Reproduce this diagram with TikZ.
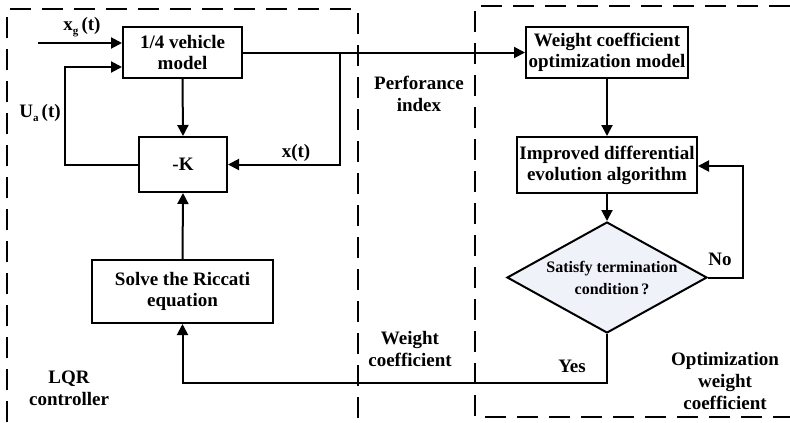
\documentclass[tikz,border=0pt]{standalone}
\usepackage{fontspec}
\setmainfont{Liberation Serif}
\usetikzlibrary{shapes.geometric,arrows.meta}
\tikzset{
  blk/.style={draw, line width=2bp, inner sep=0pt, align=center,
    font=\fontsize{19bp}{21bp}\selectfont\bfseries},
  lbl/.style={align=center, inner sep=0pt, font=\fontsize{19bp}{22bp}\selectfont\bfseries},
  conn/.style={line width=2bp},
  arr/.style={line width=2bp, -{Triangle[length=11bp,width=11bp]}},
  dashbox/.style={line width=2bp, dash pattern=on 21bp off 11bp},
}
\newcommand{\lowsub}[1]{\raisebox{-4bp}{\fontsize{11bp}{11bp}\selectfont #1}}
\definecolor{diafill}{RGB}{240,242,250}
\begin{document}
\begin{tikzpicture}[x=1bp,y=-1bp]
\useasboundingbox (0,0) rectangle (790,422);
% dashed regions
\draw[dashbox] (7,422) -- (7,9) -- (358,9) -- (358,422);
\draw[dashbox] (790,6) -- (475,6) -- (475,417) -- (790,417);
% blocks
\node[blk, minimum width=119bp, minimum height=51bp] (veh) at (182.5,52.5) {1/4 vehicle\\model};
\node[blk, minimum width=88bp, minimum height=55bp] (K) at (183,164.5) {-K};
\node[blk, minimum width=181bp, minimum height=63bp] (ric) at (182.5,291.5) {Solve the Riccati\\equation};
\node[blk, minimum width=162bp, minimum height=51bp] (wcom) at (607,52.5) {Weight coefficient\\optimization model};
\node[blk, minimum width=180bp, minimum height=56bp] (ide) at (607,165) {Improved differential\\evolution algorithm};
\node[draw, line width=2bp, diamond, fill=diafill, inner sep=0pt, aspect=1.8,
  minimum width=200bp, minimum height=111bp] (dia) at (607,277.5) {};
\node[align=center, inner sep=0pt, font=\fontsize{16bp}{22bp}\selectfont\bfseries] (diatext) at (612,278) {Satisfy termination\\condition\,?};
% coordinates
\coordinate (xgs) at (38,43);
\coordinate (uac) at (65,67);
\coordinate (junc) at (340,52.5);
\coordinate (noc) at (743,166);
\coordinate (yesc) at (607,383);
% connectors
\draw[arr] (xgs) -- (veh.west |- xgs);
\draw[arr] (K.west) -| (uac) -- (veh.west |- uac);
\draw[arr] (veh.south) -- (K.north);
\draw[arr] (veh.east) -- (wcom.west);
\draw[arr] (junc) |- (K.east);
\draw[arr] (ric.north) -- (K.south);
\draw[arr] (wcom.south) -- (ide.north);
\draw[arr] (ide.south) -- (dia.north);
\draw[arr] (dia.east) -| (noc) -- (ide.east |- noc);
\draw[arr] (dia.south) -- (yesc) -| (ric.south);
% labels
\node[lbl] (lxg) at (82,27) {x\lowsub{g}\,(t)};
\node[lbl] (lua) at (40,113) {U\lowsub{a}\,(t)};
\node[lbl] (lx) at (296,153) {x(t)};
\node[lbl] (lperf) at (419,94) {Perforance\\index};
\node[lbl] (lwc) at (410,349) {Weight\\coefficient};
\node[lbl] (llqr) at (69,388) {LQR\\controller};
\node[lbl] (lyes) at (572,366) {Yes};
\node[lbl] (lno) at (720,259) {No};
\node[lbl] (lopt) at (725,381) {Optimization\\weight\\coefficient};
\end{tikzpicture}
\end{document}
